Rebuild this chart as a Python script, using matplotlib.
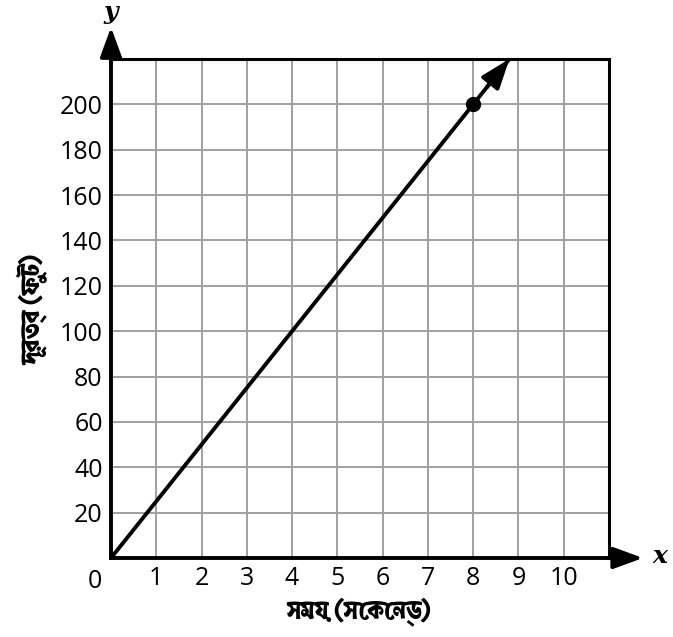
import matplotlib
matplotlib.use("Agg")
import matplotlib.pyplot as plt
from matplotlib import font_manager
from matplotlib.ft2font import FT2Font

# ---- data ----
x_ticks = [1, 2, 3, 4, 5, 6, 7, 8, 9, 10]
y_ticks = [20, 40, 60, 80, 100, 120, 140, 160, 180, 200]
line_x = [0, 8.8]
line_y = [0, 220]
point_x = [8]
point_y = [200]
x_label = "সময় (সেকেন্ড)"
y_label = "দূরত্ব (ফুট)"

# ---- find a font with Bengali glyphs (prefer bold) ----
beng = []
for f in font_manager.fontManager.ttflist:
    try:
        cm = FT2Font(f.fname).get_charmap()
        if 0x09B8 in cm and 0x09AE in cm:
            w = f.weight if isinstance(f.weight, int) else (700 if "bold" in str(f.weight).lower() else 400)
            beng.append((w, f.name, f.fname))
    except Exception:
        pass
beng.sort(key=lambda t: -t[0])
beng_prop = font_manager.FontProperties(fname=beng[0][2], size=18) if beng else \
    font_manager.FontProperties(family="DejaVu Sans", size=18, weight="bold")
beng_bold = bool(beng) and beng[0][0] >= 600

plt.rcParams['font.family'] = ["Open Sans", "DejaVu Sans"]

fig = plt.figure(figsize=(6.73, 6.37), dpi=100)
ax = fig.add_axes([111/673, 1 - 558/637, (609-111)/673, (558-59)/637])
ax.set_xlim(0, 11)
ax.set_ylim(0, 220)

ax.set_xticks(range(0, 12))
ax.set_yticks(range(0, 221, 20))
ax.grid(True, color="#a0a0a0", lw=1.4)
ax.set_axisbelow(True)
ax.tick_params(length=0, labelsize=18, pad=6)
ax.set_xticklabels([""] + [str(v) for v in x_ticks] + [""])
ax.set_yticklabels([""] + [str(v) for v in y_ticks] + [""])
for s in ax.spines.values():
    s.set_color("black")
    s.set_linewidth(2.2)
ax.spines['left'].set_linewidth(2.8)
ax.spines['bottom'].set_linewidth(2.8)

ax.text(-0.35, -5, "0", ha="center", va="top", fontsize=18)

arrow_kw = dict(arrowstyle="-|>,head_length=0.9,head_width=0.33",
                lw=2.8, color="black", shrinkA=0, shrinkB=0, mutation_scale=20)
# axis arrows
ax.annotate("", xy=(0, 234), xytext=(0, 219), xycoords="data",
            arrowprops=arrow_kw, annotation_clip=False)
ax.annotate("", xy=(11.75, 0), xytext=(10.95, 0), xycoords="data",
            arrowprops=arrow_kw, annotation_clip=False)
fig.text(111/673, 1.0, "y", ha="center", va="top", fontsize=18, family="DejaVu Serif",
         style="italic", fontweight="bold")
fig.text(660/673, 1 - 556/637, "x", ha="center", va="center", fontsize=18,
         family="DejaVu Serif", style="italic", fontweight="bold")

# line with arrow
ax.plot(line_x, line_y, color="black", lw=2.8, solid_capstyle="butt", clip_on=False)
ax.annotate("", xy=(line_x[1], line_y[1]), xytext=(line_x[1] - 0.5, line_y[1] - 12.5),
            arrowprops=arrow_kw, annotation_clip=False)
ax.plot(point_x, point_y, "o", color="black", ms=10, clip_on=False)

xl = ax.set_xlabel(x_label, fontproperties=beng_prop, labelpad=4)
yl = ax.set_ylabel(y_label, fontproperties=beng_prop, labelpad=8)
if not beng_bold:
    import matplotlib.patheffects as pe
    for t in (xl, yl):
        t.set_path_effects([pe.withStroke(linewidth=0.9, foreground="black")])

fig.savefig("out.png", dpi=100)
